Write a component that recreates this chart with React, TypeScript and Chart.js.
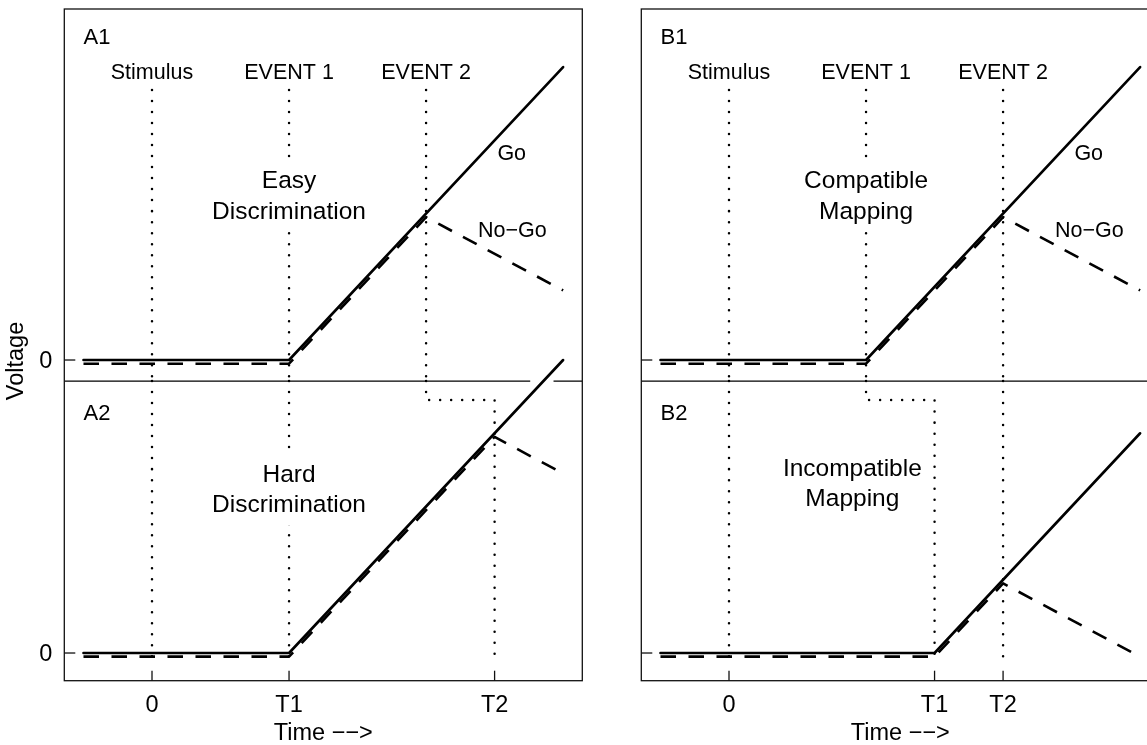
import React, { useEffect, useRef } from 'react';
import { Chart, registerables } from 'chart.js';

Chart.register(...registerables);

// ---------------- data (time: arbitrary units, 0 = stimulus onset; voltage: arbitrary units) ----------------
const goTimesA1 = [-1, 2, 6];
const goValuesA1 = [0, 0, 4];
const noGoTimesA1 = [-1, 2, 4, 6];
const noGoValuesA1 = [-0.05, -0.05, 1.95, 0.95];

const goTimesA2 = [-1, 2, 6];
const goValuesA2 = [0, 0, 4];
const noGoTimesA2 = [-1, 2, 5, 6];
const noGoValuesA2 = [-0.05, -0.05, 2.95, 2.45];

const goTimesB1 = [-1, 2, 6];
const goValuesB1 = [0, 0, 4];
const noGoTimesB1 = [-1, 2, 4, 6];
const noGoValuesB1 = [-0.05, -0.05, 1.95, 0.95];

const goTimesB2 = [-1, 3, 6];
const goValuesB2 = [0, 0, 3];
const noGoTimesB2 = [-1, 3, 4, 6];
const noGoValuesB2 = [-0.05, -0.05, 0.95, -0.05];

// event markers and ticks
const eventLabels = ['Stimulus', 'EVENT 1', 'EVENT 2'];
const eventTimesA = [0, 2, 4];
const eventTimesB = [0, 2, 4];
const xTickLabels = ['0', 'T1', 'T2'];
const xTicksA = [0, 2, 5];
const xTicksB = [0, 3, 4];
const yTickValues = [0];
const yTickLabels = ['0'];

// ---------------- layout constants ----------------
const FONT = '"Liberation Sans", Arial, Helvetica, sans-serif';
const X_MIN = -1.28;
const X_MAX = 6.28;
const Y_TOP_MIN = -4.378;
const Y_TOP_MAX = 4.792;
const Y_BOT_MIN = -0.378;
const Y_BOT_MAX = 8.792;
const DIVIDER_TOP = -0.287; // divider height in upper-plot voltage units
const DIVIDER_BOT = 3.713; // same height in lower-plot voltage units
const GUIDE_START = 3.686; // upper end of the dotted event guides (upper plot)
const GUIDE_END = -0.137; // lower end of guides (lower plot)
const JOG_LEVEL = 3.454; // level of the dotted horizontal jog (lower plot)

const pts = (xs: number[], ys: number[]) => xs.map((x, i) => ({ x, y: ys[i] }));

function ds(data: any[], axis: string, kind: string) {
  const base: any = {
    data,
    yAxisID: axis,
    borderColor: '#000',
    backgroundColor: '#000',
    pointRadius: 0,
    pointHoverRadius: 0,
    fill: false,
    tension: 0,
    borderJoinStyle: 'round',
  };
  if (kind === 'go') return { ...base, borderWidth: 2.6, borderCapStyle: 'round', order: 0 };
  if (kind === 'nogo') return { ...base, borderWidth: 2.6, borderDash: [15.5, 12.5], borderCapStyle: 'butt', order: 1 };
  return { ...base, borderWidth: 2.5, borderDash: [0.01, 11], borderCapStyle: 'round', order: 2 };
}

function drawText(ctx: CanvasRenderingContext2D, s: string, x: number, yc: number, size: number, align: CanvasTextAlign = 'center') {
  ctx.font = `${size}px ${FONT}`;
  ctx.textAlign = align;
  ctx.textBaseline = 'alphabetic';
  ctx.fillStyle = '#000';
  ctx.fillText(s, x, yc + 0.358 * size);
}

function buildConfig(p: any) {
  const datasets: any[] = [
    ds(pts(p.goTop[0], p.goTop[1]), 'yTop', 'go'),
    ds(pts(p.goBot[0], p.goBot[1]), 'yBot', 'go'),
    ds(pts(p.noGoTop[0], p.noGoTop[1]), 'yTop', 'nogo'),
    ds(pts(p.noGoBot[0], p.noGoBot[1]), 'yBot', 'nogo'),
  ];
  p.guidesTop.forEach((g: any) => datasets.push(ds(g, 'yTop', 'guide')));
  p.guidesBot.forEach((g: any) => datasets.push(ds(g, 'yBot', 'guide')));

  const plugin = {
    id: 'rdecor' + p.side,
    beforeDatasetsDraw(chart: any) {
      const { ctx, chartArea: a, scales } = chart;
      const x = scales.x;
      const yT = scales.yTop;
      ctx.save();
      ctx.strokeStyle = '#000';
      ctx.lineWidth = 1.2;
      const dy = yT.getPixelForValue(DIVIDER_TOP);
      ctx.beginPath();
      if (p.dividerGap) {
        ctx.moveTo(a.left, dy);
        ctx.lineTo(x.getPixelForValue(p.dividerGap[0]), dy);
        ctx.moveTo(x.getPixelForValue(p.dividerGap[1]), dy);
        ctx.lineTo(a.right, dy);
      } else {
        ctx.moveTo(a.left, dy);
        ctx.lineTo(a.right, dy);
      }
      ctx.stroke();
      ctx.restore();
    },
    afterDatasetsDraw(chart: any) {
      const { ctx, chartArea: a, scales } = chart;
      const x = scales.x;
      const yT = scales.yTop;
      const yB = scales.yBot;
      ctx.save();
      // box
      ctx.strokeStyle = '#111';
      ctx.lineWidth = 1.3;
      ctx.strokeRect(a.left, a.top, a.right - a.left, a.bottom - a.top);

      // y ticks (inward)
      [yT, yB].forEach((sc: any) => {
        yTickValues.forEach((v, i) => {
          const py = sc.getPixelForValue(v);
          ctx.beginPath();
          ctx.moveTo(a.left, py);
          ctx.lineTo(a.left + 11, py);
          ctx.stroke();
          if (p.showYLabels) drawText(ctx, yTickLabels[i], a.left - 12, py, 23.5, 'right');
        });
      });
      // x ticks (inward)
      p.ticks.forEach((t: number, i: number) => {
        const px = x.getPixelForValue(t);
        ctx.beginPath();
        ctx.moveTo(px, a.bottom);
        ctx.lineTo(px, a.bottom - 10);
        ctx.stroke();
        drawText(ctx, xTickLabels[i], px, a.bottom + 22.6, 23.5);
      });
      drawText(ctx, 'Time \u2212\u2212>', (a.left + a.right) / 2, a.bottom + 51, 23.5);
      if (p.showYTitle) {
        ctx.save();
        ctx.translate(15, 361);
        ctx.rotate(-Math.PI / 2);
        drawText(ctx, 'Voltage', 0, 0, 23.5);
        ctx.restore();
      }

      // panel ids
      drawText(ctx, p.ids[0], x.getPixelForValue(-1), yT.getPixelForValue(4.423), 22, 'left');
      drawText(ctx, p.ids[1], x.getPixelForValue(-1), yB.getPixelForValue(3.294), 22, 'left');

      // event labels
      p.eventTimes.forEach((t: number, i: number) => {
        drawText(ctx, eventLabels[i], x.getPixelForValue(t), yT.getPixelForValue(3.948), 21.5);
      });

      // condition labels with white background
      [
        { c: p.condTop, sc: yT },
        { c: p.condBot, sc: yB },
      ].forEach(({ c, sc }) => {
        const size = 24.5;
        ctx.font = `${size}px ${FONT}`;
        const w = Math.max(...c.lines.map((s: string) => ctx.measureText(s).width));
        const cx = x.getPixelForValue(c.x);
        const y1 = sc.getPixelForValue(c.y[0]);
        const y2 = sc.getPixelForValue(c.y[1]);
        ctx.fillStyle = '#fff';
        ctx.fillRect(cx - w / 2 - 3, y1 - 20, w + 6, y2 - y1 + 42);
        drawText(ctx, c.lines[0], cx, y1, size);
        drawText(ctx, c.lines[1], cx, y2, size);
      });

      // Go / No-Go labels
      drawText(ctx, 'Go', x.getPixelForValue(5.25), yT.getPixelForValue(2.84), 21.5);
      drawText(ctx, 'No\u2212Go', x.getPixelForValue(5.26), yT.getPixelForValue(1.788), 21.5);
      ctx.restore();
    },
  };

  return {
    type: 'line',
    data: { datasets },
    options: {
      animation: false,
      responsive: false,
      devicePixelRatio: 1,
      events: [],
      layout: { padding: p.padding },
      plugins: { legend: { display: false }, tooltip: { enabled: false }, title: { display: false } },
      scales: {
        x: { type: 'linear', min: X_MIN, max: X_MAX, display: false },
        yTop: { type: 'linear', min: Y_TOP_MIN, max: Y_TOP_MAX, display: false, position: 'left' },
        yBot: { type: 'linear', min: Y_BOT_MIN, max: Y_BOT_MAX, display: false, position: 'left' },
      },
    },
    plugins: [plugin],
  };
}

const guideTopPaths = (times: number[]) =>
  times.map((t) => [
    { x: t, y: GUIDE_START },
    { x: t, y: DIVIDER_TOP },
  ]);
const guideStraight = (t: number) => [
  { x: t, y: DIVIDER_BOT },
  { x: t, y: GUIDE_END },
];
const guideJog = (from: number, to: number) => [
  { x: from, y: DIVIDER_BOT },
  { x: from, y: JOG_LEVEL },
  { x: to, y: JOG_LEVEL },
  { x: to, y: GUIDE_END },
];

const panelA = {
  side: 'A',
  ids: ['A1', 'A2'],
  goTop: [goTimesA1, goValuesA1],
  noGoTop: [noGoTimesA1, noGoValuesA1],
  goBot: [goTimesA2, goValuesA2],
  noGoBot: [noGoTimesA2, noGoValuesA2],
  eventTimes: eventTimesA,
  ticks: xTicksA,
  condTop: { lines: ['Easy', 'Discrimination'], x: 2, y: [2.47, 2.05] },
  condBot: { lines: ['Hard', 'Discrimination'], x: 2, y: [2.46, 2.04] },
  guidesTop: guideTopPaths(eventTimesA),
  guidesBot: [guideStraight(xTicksA[0]), guideStraight(xTicksA[1]), guideJog(eventTimesA[2], xTicksA[2])],
  showYLabels: true,
  showYTitle: true,
  dividerGap: [5.52, 5.86],
  padding: { left: 64.3, right: 29.7, top: 9, bottom: 64.3 },
};

const panelB = {
  side: 'B',
  ids: ['B1', 'B2'],
  goTop: [goTimesB1, goValuesB1],
  noGoTop: [noGoTimesB1, noGoValuesB1],
  goBot: [goTimesB2, goValuesB2],
  noGoBot: [noGoTimesB2, noGoValuesB2],
  eventTimes: eventTimesB,
  ticks: xTicksB,
  condTop: { lines: ['Compatible', 'Mapping'], x: 2, y: [2.47, 2.05] },
  condBot: { lines: ['Incompatible', 'Mapping'], x: 1.8, y: [2.54, 2.12] },
  guidesTop: guideTopPaths(eventTimesB),
  guidesBot: [guideStraight(xTicksB[0]), guideJog(eventTimesB[1], xTicksB[1]), guideStraight(xTicksB[2])],
  showYLabels: false,
  showYTitle: false,
  dividerGap: null,
  padding: { left: 29.3, right: 4.7, top: 9, bottom: 64.3 },
};

export default function App() {
  const leftRef = useRef<HTMLCanvasElement>(null);
  const rightRef = useRef<HTMLCanvasElement>(null);

  useEffect(() => {
    const charts: Chart[] = [];
    if (leftRef.current) charts.push(new Chart(leftRef.current, buildConfig(panelA) as any));
    if (rightRef.current) charts.push(new Chart(rightRef.current, buildConfig(panelB) as any));
    return () => charts.forEach((c) => c.destroy());
  }, []);

  return (
    <div style={{ position: 'fixed', left: 0, top: 0, width: 1147, height: 745, overflow: 'hidden', background: '#fff' }}>
      <canvas ref={leftRef} width={612} height={745} style={{ position: 'absolute', left: 0, top: 0, width: 612, height: 745 }} />
      <canvas ref={rightRef} width={552} height={745} style={{ position: 'absolute', left: 612, top: 0, width: 552, height: 745 }} />
    </div>
  );
}
